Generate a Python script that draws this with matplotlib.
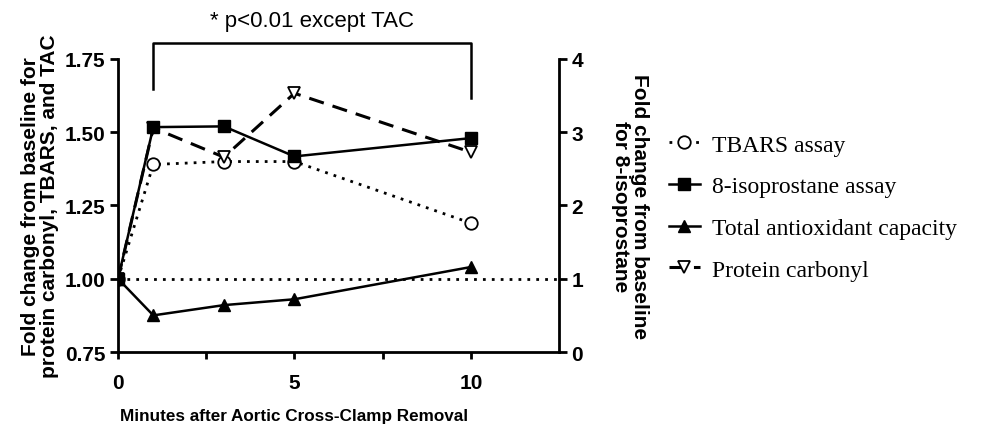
import matplotlib
matplotlib.use("Agg")
import matplotlib.pyplot as plt

minutes = [0, 1, 3, 5, 10]
tbars = [1.00, 1.39, 1.40, 1.40, 1.19]
isoprostane = [1.00, 3.07, 3.08, 2.67, 2.92]
tac = [1.00, 0.875, 0.91, 0.93, 1.04]
carbonyl = [1.00, 1.515, 1.415, 1.633, 1.432]

plt.rcParams["font.family"] = ["Liberation Sans", "DejaVu Sans"]
plt.rcParams["font.weight"] = "bold"

fig = plt.figure(figsize=(9.86, 4.27), dpi=100)
ax = fig.add_axes([0.1197, 0.1733, 0.4473, 0.6862])
ax2 = ax.twinx()

ax.axhline(1.0, color="black", ls=(0, (1, 2.2)), lw=2, zorder=1)
ax.plot(minutes, tbars, color="black", ls=(0, (1, 2.2)), lw=2,
        marker="o", ms=9, mfc="white", mec="black", mew=1.3, label="TBARS assay", zorder=3)
ax.plot(minutes, tac, color="black", ls="-", lw=1.8,
        marker="^", ms=9, mfc="black", mec="black", label="Total antioxidant capacity", zorder=3)
ax.plot(minutes, carbonyl, color="black", ls=(0, (5, 3)), lw=2.2,
        marker="v", ms=9, mfc="white", mec="black", mew=1.3, label="Protein carbonyl", zorder=3)
ax2.plot(minutes, isoprostane, color="black", ls="-", lw=1.8,
         marker="s", ms=9, mfc="black", mec="black", label="8-isoprostane assay", zorder=4)

ax.set_xlim(0, 12.5)
ax.set_ylim(0.75, 1.75)
ax2.set_ylim(0, 4)
ax.set_xticks([0, 2.5, 5, 7.5, 10])
ax.set_xticklabels(["0", "", "5", "", "10"])
ax.set_yticks([0.75, 1.0, 1.25, 1.5, 1.75])
ax.set_yticklabels(["0.75", "1.00", "1.25", "1.50", "1.75"])
ax2.set_yticks([0, 1, 2, 3, 4])

for a in (ax, ax2):
    a.spines["top"].set_visible(False)
    for s in a.spines.values():
        s.set_linewidth(2)
    a.tick_params(width=2, length=6, labelsize=15, direction="out", pad=3)
ax.tick_params(axis="x", length=5, pad=10)
ax.spines["right"].set_visible(False)
ax2.spines["left"].set_visible(False)
ax2.spines["bottom"].set_visible(False)

ax.set_xlabel("Minutes after Aortic Cross-Clamp Removal", fontsize=12.3,
              fontweight="bold")
ax.xaxis.set_label_coords(0.4, -0.19)
ax.set_ylabel("Fold change from baseline for\nprotein carbonyl, TBARS, and TAC",
              fontsize=15, fontweight="bold", labelpad=4, linespacing=1.0)
ax2.set_ylabel("Fold change from baseline\nfor 8-isoprostane", fontsize=15,
               fontweight="bold", rotation=-90, labelpad=47, linespacing=1.0)

# significance bracket
ax.plot([1, 1, 10, 10], [1.648, 1.805, 1.805, 1.617], color="black", lw=1.8,
        clip_on=False, zorder=2)
ax.text(5.5, 1.88, "* p<0.01 except TAC", ha="center", va="center",
        fontsize=16, fontweight="normal")

h1, l1 = ax.get_legend_handles_labels()
h2, l2 = ax2.get_legend_handles_labels()
handles = [h1[0], h2[0], h1[1], h1[2]]
labels = [l1[0], l2[0], l1[1], l1[2]]
fig.legend(handles, labels, loc="center left", bbox_to_anchor=(0.657, 0.512),
           frameon=False, handlelength=1.3, handletextpad=0.5, labelspacing=0.85,
           prop={"family": "Liberation Serif", "size": 17, "weight": "normal"})

fig.savefig("out.png", dpi=100)
